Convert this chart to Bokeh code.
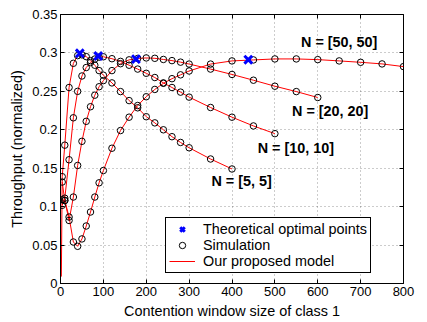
from bokeh.plotting import figure
from bokeh.models import (Range1d, Label, Legend, LegendItem, FixedTicker,
                          NumeralTickFormatter, LinearAxis, CustomJSTickFormatter)
from bokeh.embed import file_html
from bokeh.resources import INLINE

FONT = "Liberation Sans"

# ---- data ----
x_5 = [4, 10, 20, 30, 40, 50, 60, 70, 80, 90, 100, 120, 140, 160, 180, 200,
       220, 240, 260, 280, 300, 350, 400]
y_5 = [0.139, 0.180, 0.255, 0.2865, 0.2965, 0.2975, 0.2952, 0.290, 0.284, 0.277,
       0.271, 0.261, 0.2497, 0.238, 0.2286, 0.217, 0.209, 0.200, 0.191, 0.1835,
       0.1766, 0.162, 0.149]

x_10 = [4, 10, 20, 30, 40, 50, 60, 70, 80, 90, 100, 120, 140, 160, 180, 200,
        220, 240, 260, 280, 300, 350, 400, 450, 500]
y_10 = [0.1017, 0.111, 0.161, 0.2156, 0.250, 0.270, 0.281, 0.2875, 0.292, 0.2945,
        0.295, 0.2925, 0.289, 0.284, 0.279, 0.2735, 0.268, 0.261, 0.255, 0.249,
        0.2425, 0.229, 0.2164, 0.205, 0.195]

x_20 = [4, 10, 20, 30, 40, 50, 60, 70, 80, 90, 100, 120, 140, 160, 180, 200,
        220, 240, 260, 280, 300, 350, 400, 450, 500, 550, 600]
y_20 = [0.109, 0.108, 0.082, 0.1125, 0.1536, 0.185, 0.211, 0.230, 0.245, 0.256,
        0.264, 0.277, 0.286, 0.291, 0.2928, 0.2935, 0.293, 0.2915, 0.290, 0.288,
        0.2855, 0.279, 0.272, 0.2645, 0.2567, 0.2497, 0.242]

x_50 = [4, 10, 20, 30, 40, 50, 60, 70, 80, 90, 100, 120, 140, 160, 180, 200,
        220, 240, 260, 280, 300, 350, 400, 450, 500, 550, 600, 650, 700, 750, 800]
y_50 = [0.132, 0.108, 0.0865, 0.054, 0.0484, 0.058, 0.0748, 0.093, 0.1125, 0.131,
        0.147, 0.176, 0.199, 0.2164, 0.2316, 0.243, 0.2525, 0.2605, 0.2665, 0.2715,
        0.2765, 0.2855, 0.2896, 0.2909, 0.2922, 0.2922, 0.2913, 0.2896, 0.2878,
        0.2857, 0.2822]

# model curve start for N=[5,5] (steep rise near the origin)
model_start_x = [2]
model_start_y = [0.009]

opt_x = [45, 88, 176, 438]
opt_y = [0.2995, 0.296, 0.292, 0.2912]

curve_labels = ["N = [5, 5]", "N = [10, 10]", "N = [20, 20]", "N = [50, 50]"]
x_ticks = [0, 100, 200, 300, 400, 500, 600, 700, 800]
y_ticks = [0, 0.05, 0.1, 0.15, 0.2, 0.25, 0.3, 0.35]

# ---- figure ----
p = figure(width=427, height=322, output_backend="svg", toolbar_location=None,
           x_range=Range1d(0, 800), y_range=Range1d(0, 0.35),
           min_border_left=60, min_border_right=24, min_border_top=14,
           min_border_bottom=39)
p.background_fill_color = "white"
p.border_fill_color = "white"
p.outline_line_color = "black"
p.outline_line_width = 1
p.outline_line_alpha = 1

for ax in (p.xaxis[0], p.yaxis[0]):
    ax.axis_line_color = "black"
    ax.major_tick_in = 4
    ax.major_tick_out = 0
    ax.minor_tick_line_color = None
    ax.major_label_text_font = FONT
    ax.major_label_text_font_size = "13px"
    ax.major_label_text_color = "black"
    ax.axis_label_text_font = FONT
    ax.axis_label_text_font_size = "14.4px"
    ax.axis_label_text_font_style = "normal"
    ax.axis_label_text_color = "black"
    ax.major_label_standoff = 3
    ax.axis_label_standoff = 4

p.xaxis.ticker = FixedTicker(ticks=x_ticks)
p.yaxis.ticker = FixedTicker(ticks=y_ticks)
p.yaxis.formatter = NumeralTickFormatter(format="0.[00]")
p.xaxis.axis_label = "Contention window size of class 1"
p.yaxis.axis_label = "Throughput (normalized)"

# box ticks on top and right
for place, ticks in (("above", x_ticks), ("right", y_ticks)):
    a = LinearAxis(ticker=FixedTicker(ticks=ticks),
                   formatter=CustomJSTickFormatter(code="return ''"),
                   major_tick_in=4, major_tick_out=0,
                   minor_tick_line_color=None, axis_line_color=None,
                   major_label_standoff=0, major_label_text_font_size="1px")
    p.add_layout(a, place)

p.xgrid.ticker = FixedTicker(ticks=x_ticks)
p.ygrid.ticker = FixedTicker(ticks=y_ticks)
p.grid.grid_line_color = "#000000"
p.grid.grid_line_alpha = 0.4
p.grid.grid_line_dash = "1 3"
p.grid.grid_line_width = 1

# model lines
r_line = p.line(model_start_x + x_5, model_start_y + y_5, line_color="#ff0000", line_width=1)
p.line(x_10, y_10, line_color="#ff0000", line_width=1)
p.line(x_20, y_20, line_color="#ff0000", line_width=1)
p.line(x_50, y_50, line_color="#ff0000", line_width=1)

# simulation points
r_sim = None
for xs, ys in ((x_5, y_5), (x_10, y_10), (x_20, y_20), (x_50, y_50)):
    r = p.scatter(xs, ys, marker="circle", size=6.5, line_color="black",
                  fill_color=None, line_width=1)
    if r_sim is None:
        r_sim = r

# theoretical optimum
r_opt = p.scatter(opt_x, opt_y, marker="x", size=11, line_color="#0000ff",
                  line_width=3)

# curve labels
label_pos = [(352, 0.1328), (460, 0.176), (540, 0.224), (561, 0.3147)]
for txt, (lx, ly) in zip(curve_labels, label_pos):
    p.add_layout(Label(x=lx, y=ly, text=txt, text_font=FONT,
                       text_font_size="14.4px", text_font_style="bold",
                       text_baseline="middle", text_align="left",
                       text_color="black"))

legend = Legend(items=[
    LegendItem(label="Theoretical optimal points", renderers=[r_opt]),
    LegendItem(label="Simulation", renderers=[r_sim]),
    LegendItem(label="Our proposed model", renderers=[r_line]),
], location=(105, 10))
legend.border_line_color = "black"
legend.border_line_width = 1
legend.border_line_alpha = 1
legend.background_fill_alpha = 1
legend.label_text_font = FONT
legend.label_text_font_size = "14.4px"
legend.label_text_color = "black"
legend.padding = 3
legend.spacing = 0
legend.margin = 0
legend.glyph_width = 26
legend.glyph_height = 16
legend.label_height = 16
legend.label_standoff = 8
p.add_layout(legend)

open("out.html", "w").write(file_html(p, INLINE))
